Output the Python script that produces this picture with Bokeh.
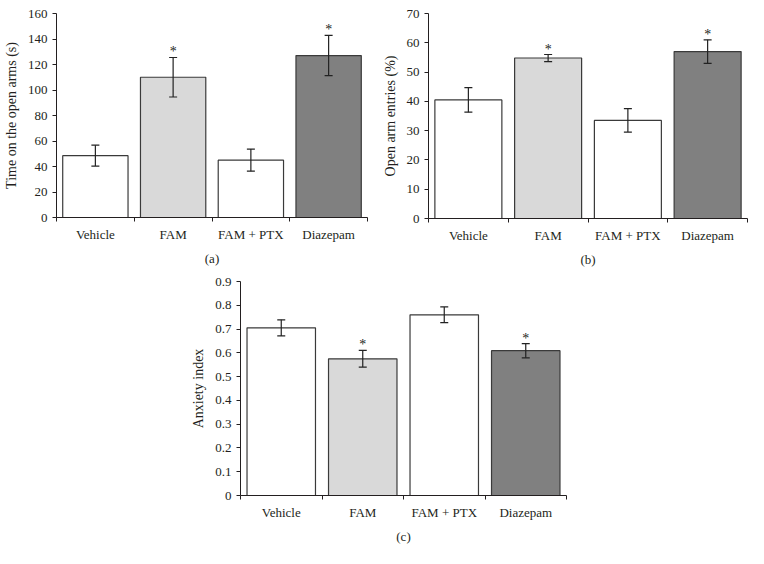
from bokeh.plotting import figure
from bokeh.models import FixedTicker, Range1d, ColumnDataSource, NumeralTickFormatter, Spacer
from bokeh.layouts import column, row
from bokeh.embed import file_html
from bokeh.resources import INLINE
from bokeh.core.properties import value

categories = ["Vehicle", "FAM", "FAM + PTX", "Diazepam"]
fills = ["#ffffff", "#d9d9d9", "#ffffff", "#808080"]
significant = [False, True, False, True]

time_open = [48.5, 110.0, 45.0, 127.0]
time_open_err = [8.2, 15.5, 8.7, 15.8]
time_ticks = [0, 20, 40, 60, 80, 100, 120, 140, 160]

entries = [40.5, 54.8, 33.5, 57.0]
entries_err = [4.2, 1.2, 4.0, 4.0]
entries_ticks = [0, 10, 20, 30, 40, 50, 60, 70]

anxiety = [0.705, 0.575, 0.760, 0.609]
anxiety_err = [0.034, 0.035, 0.033, 0.030]
anxiety_ticks = [0, 0.1, 0.2, 0.3, 0.4, 0.5, 0.6, 0.7, 0.8, 0.9]

FONT = "Liberation Serif"
INK = "#231f20"
EDGE = "#3a3a3a"


def panel(vals, errs, ticks, ylabel, tag, fw, fh, bl, br, bt, bb, fmt=None):
    n = len(categories)
    centers = [i + 0.5 for i in range(n)]
    p = figure(frame_width=fw, frame_height=fh,
               x_range=Range1d(0, n), y_range=Range1d(0, ticks[-1]),
               output_backend="svg", toolbar_location=None,
               min_border_left=bl, min_border_right=br,
               min_border_top=bt, min_border_bottom=bb)
    p.outline_line_color = None
    p.xgrid.visible = False
    p.ygrid.visible = False

    src = ColumnDataSource(dict(
        x=centers, top=vals, fill=fills,
        upper=[v + e for v, e in zip(vals, errs)],
        lower=[v - e for v, e in zip(vals, errs)],
    ))
    p.vbar(x="x", top="top", bottom=0, width=0.84, source=src,
           fill_color="fill", line_color=EDGE, line_width=1.2)
    p.segment(x0="x", y0="lower", x1="x", y1="upper", source=src,
              line_color="#222222", line_width=1.2)
    p.scatter(x="x", y="upper", source=src, marker="dash", size=8,
              line_color="#222222", line_width=1.2)
    p.scatter(x="x", y="lower", source=src, marker="dash", size=8,
              line_color="#222222", line_width=1.2)

    sx = [c for c, s in zip(centers, significant) if s]
    sy = [v + e for v, e, s in zip(vals, errs, significant) if s]
    p.text(x=sx, y=sy, text=["*"] * len(sx), text_align="center",
           text_baseline="bottom", y_offset=2,
           text_font=value(FONT), text_font_size="14px", text_color=INK)

    xa = p.xaxis[0]
    xa.ticker = FixedTicker(ticks=centers, minor_ticks=list(range(n + 1)))
    xa.major_label_overrides = {c: lab for c, lab in zip(centers, categories)}
    xa.major_tick_out = 0
    xa.major_tick_in = 0
    xa.minor_tick_out = 4
    xa.minor_tick_in = 0
    xa.minor_tick_line_color = INK
    xa.axis_line_color = INK
    xa.major_label_standoff = 5
    xa.major_label_text_font = FONT
    xa.major_label_text_font_size = "13px"
    xa.major_label_text_color = INK
    xa.axis_label = tag
    xa.axis_label_text_font = FONT
    xa.axis_label_text_font_size = "13px"
    xa.axis_label_text_font_style = "normal"
    xa.axis_label_text_color = INK
    xa.axis_label_standoff = 6

    ya = p.yaxis[0]
    ya.ticker = FixedTicker(ticks=ticks)
    if fmt is not None:
        ya.formatter = fmt
    ya.major_tick_out = 4
    ya.major_tick_in = 0
    ya.minor_tick_out = 0
    ya.minor_tick_in = 0
    ya.major_tick_line_color = INK
    ya.axis_line_color = INK
    ya.major_label_standoff = 5
    ya.major_label_text_font = FONT
    ya.major_label_text_font_size = "13px"
    ya.major_label_text_color = INK
    ya.axis_label = ylabel
    ya.axis_label_text_font = FONT
    ya.axis_label_text_font_size = "14px"
    ya.axis_label_text_font_style = "normal"
    ya.axis_label_text_color = INK
    ya.axis_label_standoff = 6
    return p


pa = panel(time_open, time_open_err, time_ticks, "Time on the open arms (s)", "(a)",
           311, 204, 53, 10, 13, 45)
pb = panel(entries, entries_err, entries_ticks, "Open arm entries (%)", "(b)",
           319, 205, 51, 4, 12, 45)
pc = panel(anxiety, anxiety_err, anxiety_ticks, "Anxiety index", "(c)",
           326, 214, 55, 4, 13, 51, fmt=NumeralTickFormatter(format="0.[0]"))

layout = column(row(pa, pb), row(Spacer(width=185, height=278), pc))
open("out.html", "w").write(file_html(layout, INLINE))
